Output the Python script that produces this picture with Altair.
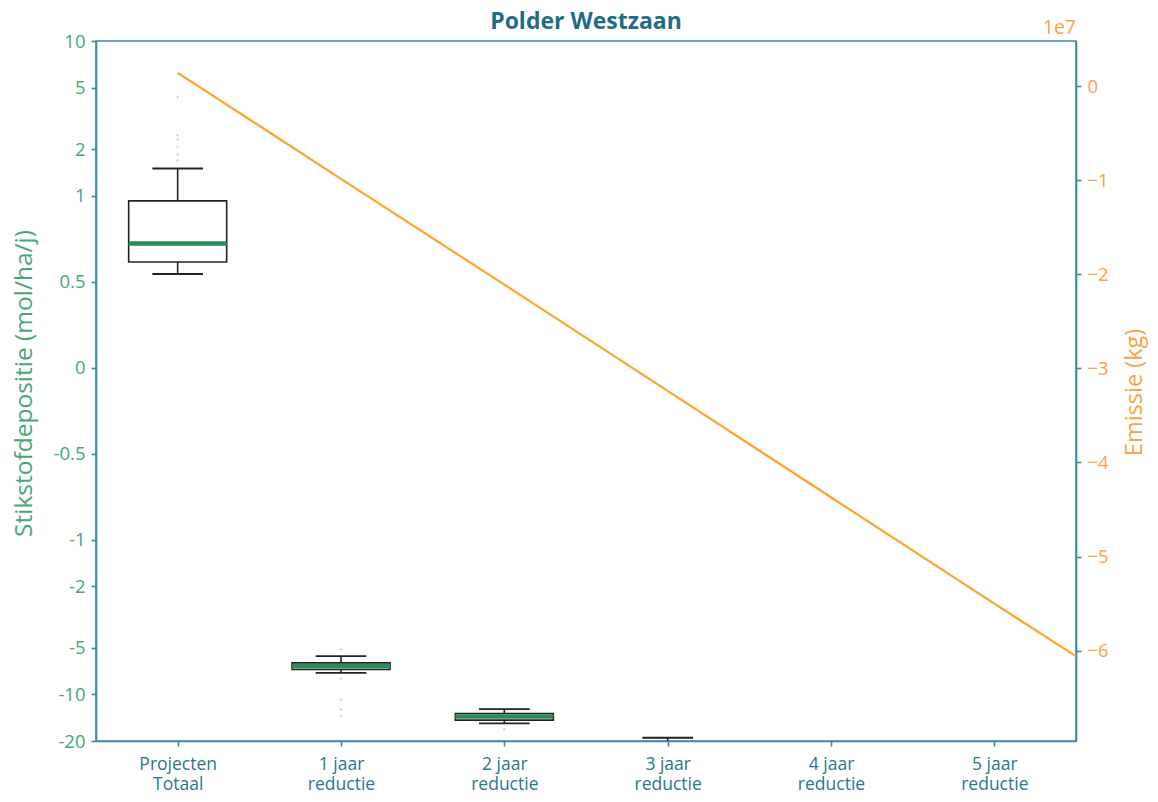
import math
import altair as alt
import pandas as pd

# ---------------- data ----------------
categories = ["Projecten Totaal", "1 jaar reductie", "2 jaar reductie",
              "3 jaar reductie", "4 jaar reductie", "5 jaar reductie"]
label_lines = [["Projecten", "Totaal"], ["1 jaar", "reductie"], ["2 jaar", "reductie"],
               ["3 jaar", "reductie"], ["4 jaar", "reductie"], ["5 jaar", "reductie"]]
whisker_low = [0.545, -7.26, -15.4, -27.0, -42.0, -58.0]
q1 = [0.615, -6.90, -14.66, -25.0, -39.0, -55.0]
median = [0.722, -6.57, -13.9, -23.5, -37.0, -53.0]
q3 = [0.970, -6.25, -13.27, -22.0, -35.0, -51.0]
whisker_high = [1.50, -5.66, -12.45, -19.05, -31.0, -47.0]

outlier_cat = [0, 0, 0, 0, 0, 0, 1, 1, 1, 1, 1, 2]
outlier_val = [4.35, 2.46, 2.31, 2.07, 1.85, 1.69, -5.12, -7.9, -10.8, -12.5, -13.8, -16.8]

emission_pos = [0, 1, 2, 3, 4, 5, 6]
emission_kg = [1.41e6, -9.86e6, -2.11e7, -3.24e7, -4.37e7, -5.50e7, -6.62e7]

left_ticks = [10, 5, 2, 1, 0.5, 0, -0.5, -1, -2, -5, -10, -20]
right_ticks = [0, -1e7, -2e7, -3e7, -4e7, -5e7, -6e7]

title_text = "Polder Westzaan"
exponent_text = "1e7"

# ---------------- styling ----------------
FONT = "Open Sans"
TEAL = "#3c8aa3"
TEAL_TXT = "#2b7690"
GREEN_TXT = "#4aa673"
MED_GREEN = "#2e8b57"
ORANGE = "#ffa22e"
ORANGE_TXT = "#f7a443"
W, H = 980, 700

LIN = 10 / 9  # matplotlib symlog linear-scale adjustment (linthresh=1, base 10)


def symlog(v):
    if abs(v) <= 1:
        return v * LIN
    return math.copysign(LIN + math.log10(abs(v)), v)


def sl_expr(f):
    return (f"abs(datum.{f}) <= 1 ? datum.{f} * {LIN} : "
            f"(datum.{f} > 0 ? 1 : -1) * ({LIN} + log(abs(datum.{f})) / LN10)")


box_df = pd.DataFrame({
    "cat": categories, "idx": list(range(len(categories))),
    "wlo": whisker_low, "q1": q1, "med": median, "q3": q3, "whi": whisker_high,
})
out_df = pd.DataFrame({"idx": outlier_cat, "v": outlier_val})
line_df = pd.DataFrame({"pos": emission_pos, "emis": emission_kg})

y_domain = [symlog(-20), symlog(10)]
x_scale = alt.Scale(domain=[-0.5, 5.5], nice=False, zero=False)
y_scale = alt.Scale(domain=y_domain, nice=False, zero=False)

label_js = "[" + ",".join("[" + ",".join(f"'{s}'" for s in l) + "]" for l in label_lines) + "]"
x_axis = alt.Axis(values=list(range(len(categories))), labelExpr=f"{label_js}[datum.value]",
                  title=None, grid=False, labelColor=TEAL_TXT, labelFontSize=17.5,
                  labelLineHeight=20, tickSize=5, labelPadding=9, labelFont=FONT)

left_label_expr = ("'' + round(100 * (abs(datum.value) <= 1.1112 ? datum.value * 0.9 : "
                   "(datum.value > 0 ? 1 : -1) * pow(10, abs(datum.value) - 10/9))) / 100")
y_axis = alt.Axis(values=[symlog(t) for t in left_ticks], labelExpr=left_label_expr,
                  title="Stikstofdepositie (mol/ha/j)", titleColor=GREEN_TXT,
                  titleFontSize=24.5, titleFontWeight="normal", titleFont=FONT,
                  titleX=-72, titleY=342, titleAlign="center", titleBaseline="middle",
                  titleAngle=270,
                  labelColor=GREEN_TXT, labelFontSize=18.5, labelFont=FONT,
                  grid=False, tickSize=5, labelPadding=6)


def X(field):
    return alt.X(f"{field}:Q", scale=x_scale, axis=x_axis)


def Y(field):
    return alt.Y(f"{field}:Q", scale=y_scale, axis=y_axis)


base = alt.Chart(box_df).transform_calculate(
    twlo=sl_expr("wlo"), tq1=sl_expr("q1"), tmed=sl_expr("med"),
    tq3=sl_expr("q3"), twhi=sl_expr("whi"),
    bx0="datum.idx - 0.3", bx1="datum.idx + 0.3",
    cx0="datum.idx - 0.155", cx1="datum.idx + 0.155",
)

whisker = base.mark_rule(color="#222222", strokeWidth=1.6, clip=True).encode(
    x=X("idx"), y=Y("twlo"), y2="twhi:Q")
cap_lo = base.mark_rule(color="#222222", strokeWidth=1.8, clip=True).encode(
    x=X("cx0"), x2="cx1:Q", y=Y("twlo"))
cap_hi = base.mark_rule(color="#222222", strokeWidth=1.8, clip=True).encode(
    x=X("cx0"), x2="cx1:Q", y=Y("twhi"))
box = base.mark_rect(fill="white", stroke="#222222", strokeWidth=1.6, clip=True).encode(
    x=X("bx0"), x2="bx1:Q", y=Y("tq3"), y2="tq1:Q")
med = base.mark_rule(color=MED_GREEN, strokeWidth=4.5, clip=True).encode(
    x=X("bx0"), x2="bx1:Q", y=Y("tmed"))

outl = alt.Chart(out_df).transform_calculate(tv=sl_expr("v")).mark_circle(
    color="#c8c8c8", size=6, opacity=0.75, clip=True).encode(x=X("idx"), y=Y("tv"))

left = alt.layer(whisker, box, med, cap_lo, cap_hi, outl)

line = alt.Chart(line_df).mark_line(color=ORANGE, strokeWidth=2.2, clip=True).encode(
    x=X("pos"),
    y=alt.Y("emis:Q",
            scale=alt.Scale(domain=[-6.96e7, 4.79e6], nice=False, zero=False),
            axis=alt.Axis(orient="right", values=right_ticks,
                          labelExpr="format(datum.value / 1e7, 'd')",
                          title="Emissie (kg)", titleColor=ORANGE_TXT, titleFontSize=23.5,
                          titleFontWeight="normal", titleFont=FONT, titleAngle=270,
                          titleX=58, titleY=H / 2 + 1, titleAlign="center",
                          titleBaseline="middle",
                          labelColor=ORANGE_TXT, labelFontSize=18.5, labelFont=FONT,
                          grid=False, tickSize=5, labelPadding=6)),
)

exp_text = alt.Chart(pd.DataFrame({"t": [exponent_text]})).mark_text(
    align="right", baseline="alphabetic", fontSize=19.5, font=FONT, color=ORANGE_TXT
).encode(x=alt.value(W), y=alt.value(-7), text="t:N")

title_mark = alt.Chart(pd.DataFrame({"t": [title_text]})).mark_text(
    align="center", baseline="alphabetic", fontSize=23, fontWeight="bold", font=FONT,
    color="#1f6c84"
).encode(x=alt.value(W / 2), y=alt.value(-12), text="t:N")

chart = alt.layer(left, line, exp_text, title_mark).resolve_scale(y="independent").properties(
    width=W, height=H,
    autosize=alt.AutoSizeParams(type="none"),
    padding={"left": 88, "top": 33, "right": 74, "bottom": 53},
).configure_view(stroke=TEAL, strokeWidth=1.6).configure_axis(
    domainColor=TEAL, domainWidth=1.6, tickColor=TEAL, tickWidth=1.6,
)

chart.save("out.html", embed_options={"renderer": "svg", "actions": False})
